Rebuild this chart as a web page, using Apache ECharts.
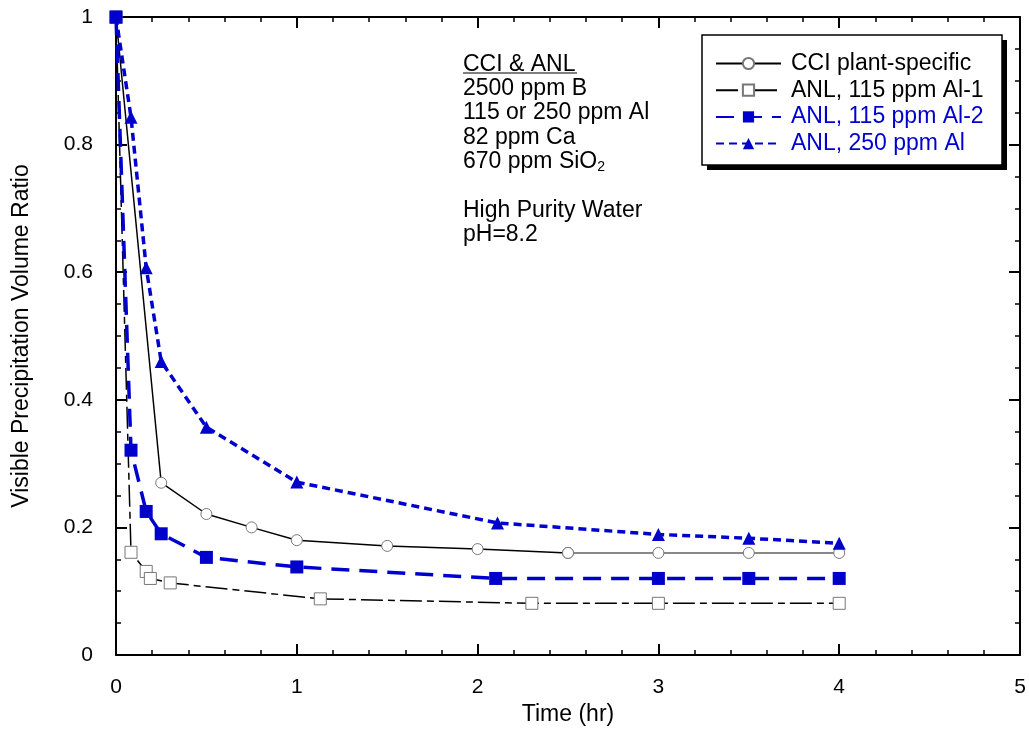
<!DOCTYPE html>
<html><head><meta charset="utf-8">
<script src="https://cdn.jsdelivr.net/npm/echarts@6/dist/echarts.min.js"></script>
<style>html,body{margin:0;padding:0;background:#fff}#c{width:1029px;height:731px}</style>
</head><body><div id="c"></div>
<script>
var cciX = [0, 0.25, 0.5, 0.75, 1, 1.5, 2, 2.5, 3, 3.5, 4];
var cciY = [1, 0.27, 0.221, 0.2, 0.18, 0.171, 0.166, 0.16, 0.16, 0.16, 0.16];
var al1X = [0, 0.083, 0.167, 0.19, 0.3, 1.13, 2.3, 3, 4];
var al1Y = [1, 0.161, 0.131, 0.12, 0.113, 0.088, 0.081, 0.081, 0.081];
var al2X = [0, 0.083, 0.167, 0.25, 0.5, 1, 2.1, 3, 3.5, 4];
var al2Y = [1, 0.321, 0.225, 0.19, 0.153, 0.138, 0.12, 0.12, 0.12, 0.12];
var a250X = [0, 0.083, 0.167, 0.25, 0.5, 1, 2.11, 3, 3.5, 4];
var a250Y = [1, 0.843, 0.607, 0.46, 0.357, 0.271, 0.207, 0.189, 0.183, 0.175];
var seriesNames = ['CCI plant-specific', 'ANL, 115 ppm Al-1', 'ANL, 115 ppm Al-2', 'ANL, 250 ppm Al'];
var noteLines = ['CCI & ANL', '2500 ppm B', '115 or 250 ppm Al', '82 ppm Ca', '670 ppm SiO{s|2}', '', 'High Purity Water', 'pH=8.2'];

function pairs(xs, ys) { return xs.map(function (x, i) { return [x, ys[i]]; }); }
var FONT = 'Liberation Sans, Arial, sans-serif';
var BLUE = '#0000CC';
var tailStart = cciX.indexOf(2.5);

var chart = echarts.init(document.getElementById('c'), null, {renderer: 'canvas'});
var axLine = {onZero: false, lineStyle: {color: '#000', width: 2}};
var axTick = {inside: true, length: 11, lineStyle: {color: '#000', width: 2}};
function minor(n) { return {show: true, splitNumber: n, length: 5, lineStyle: {color: '#000', width: 1.5}}; }
var option = {
  animation: false,
  grid: {left: 116, right: 9, top: 17, bottom: 75},
  xAxis: [
    {type: 'value', min: 0, max: 5, interval: 1, position: 'bottom',
      name: 'Time (hr)', nameLocation: 'middle', nameGap: 48,
      nameTextStyle: {fontFamily: FONT, fontSize: 23, color: '#000'},
      axisLine: axLine, axisTick: axTick, minorTick: minor(5), splitLine: {show: false},
      axisLabel: {fontFamily: FONT, fontSize: 21, color: '#000', margin: 22}},
    {type: 'value', min: 0, max: 5, interval: 1, position: 'top',
      axisLine: axLine, axisTick: axTick, minorTick: minor(5),
      axisLabel: {show: false}, splitLine: {show: false}}
  ],
  yAxis: [
    {type: 'value', min: 0, max: 1, interval: 0.2, position: 'left',
      name: 'Visible Precipitation Volume Ratio', nameLocation: 'middle', nameGap: 83,
      nameTextStyle: {fontFamily: FONT, fontSize: 23, color: '#000'},
      axisLine: axLine, axisTick: axTick, minorTick: minor(4),
      axisLabel: {fontFamily: FONT, fontSize: 21, color: '#000', margin: 23,
        formatter: function (v) { return v === 0 ? '0' : v === 1 ? '1' : String(+v.toFixed(1)); }},
      splitLine: {show: false}},
    {type: 'value', min: 0, max: 1, interval: 0.2, position: 'right',
      axisLine: axLine, axisTick: axTick, minorTick: minor(4),
      axisLabel: {show: false}, splitLine: {show: false}}
  ],
  legend: {
    orient: 'vertical', left: 702, top: 35, z: 20,
    padding: [17, 17, 11, 13], itemGap: 3.7, itemWidth: 65, itemHeight: 14,
    backgroundColor: 'transparent', borderWidth: 0,
    textStyle: {fontFamily: FONT, fontSize: 23, color: '#000', padding: [0, 0, 0, 5]},
    data: [
      {name: seriesNames[0], textStyle: {color: '#000'}},
      {name: seriesNames[1], textStyle: {color: '#000'}},
      {name: seriesNames[2], textStyle: {color: BLUE}},
      {name: seriesNames[3], textStyle: {color: BLUE}}
    ]
  },
  graphic: [
    {type: 'rect', z: 8, shape: {x: 707, y: 40, width: 300, height: 130}, style: {fill: '#000'}},
    {type: 'rect', z: 9, shape: {x: 702, y: 35, width: 300, height: 130}, style: {fill: '#fff', stroke: '#000', lineWidth: 1.5}},
    {type: 'text', left: 463, top: 52, z: 10,
      style: {text: noteLines.join('\n'), fontFamily: FONT, fontSize: 23, fill: '#000', lineHeight: 24.4,
        rich: {s: {fontSize: 14, verticalAlign: 'bottom', padding: [14, 0, 0, 0], fontFamily: FONT, lineHeight: 24.4}}}},
    {type: 'line', z: 10, shape: {x1: 463, y1: 73, x2: 577, y2: 73}, style: {stroke: '#000', lineWidth: 1.2}}
  ],
  series: [
    {name: seriesNames[0], type: 'line', data: pairs(cciX, cciY).slice(0, tailStart + 1),
      symbol: 'circle', symbolSize: 11, z: 3,
      lineStyle: {color: '#000', width: 1.5},
      itemStyle: {color: '#fff', borderColor: '#777', borderWidth: 1}},
    {name: '_tail', type: 'line', data: pairs(cciX, cciY).slice(tailStart),
      symbol: 'circle', symbolSize: 11, z: 3,
      lineStyle: {color: '#888', width: 2},
      itemStyle: {color: '#fff', borderColor: '#777', borderWidth: 1}},
    {name: seriesNames[1], type: 'line', data: pairs(al1X, al1Y),
      symbol: 'rect', symbolSize: 12, z: 3,
      lineStyle: {color: '#000', width: 1.5, type: [22, 5, 7, 5]},
      itemStyle: {color: '#fff', borderColor: '#777', borderWidth: 1}},
    {name: seriesNames[2], type: 'line', data: pairs(al2X, al2Y),
      symbol: 'rect', symbolSize: 13, z: 4,
      lineStyle: {color: BLUE, width: 3.5, type: [18, 10]},
      itemStyle: {color: BLUE}},
    {name: seriesNames[3], type: 'line', data: pairs(a250X, a250Y),
      symbol: 'triangle', symbolSize: 13, z: 4,
      lineStyle: {color: BLUE, width: 3.5, type: [8, 5]},
      itemStyle: {color: BLUE}}
  ]
};
chart.setOption(option);
</script></body></html>
